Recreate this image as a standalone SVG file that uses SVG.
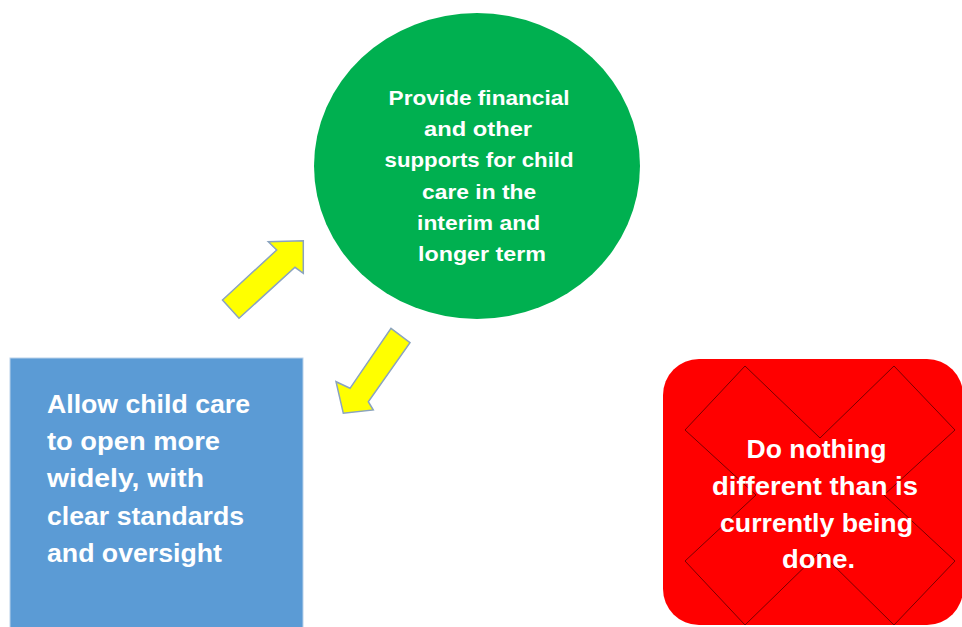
<svg xmlns="http://www.w3.org/2000/svg" width="962" height="627" viewBox="0 0 962 627">
  <style>
    .label { font-family: "Liberation Sans", Arial, sans-serif; font-weight: bold; fill: #ffffff; }
    .mid { text-anchor: middle; }
    .arrow { fill: #ffff00; stroke: #8aa3c0; stroke-width: 1.5; stroke-linejoin: miter; }
    .cross { fill: none; stroke: #7a0000; stroke-width: 1; }
  </style>
  <rect width="962" height="627" fill="#ffffff"/>

  <!-- Green option: financial supports -->
  <g id="node-supports">
    <ellipse cx="477" cy="166" rx="163" ry="153" fill="#00b050"/>
    <text class="label mid" font-size="21">
      <tspan x="482" y="105" textLength="181" lengthAdjust="spacingAndGlyphs">Provide financial</tspan>
      <tspan x="481" y="136" textLength="108" lengthAdjust="spacingAndGlyphs">and other</tspan>
      <tspan x="482" y="167" textLength="189" lengthAdjust="spacingAndGlyphs">supports for child</tspan>
      <tspan x="482" y="198.5" textLength="114" lengthAdjust="spacingAndGlyphs">care in the</tspan>
      <tspan x="481.5" y="229.5" textLength="123" lengthAdjust="spacingAndGlyphs">interim and</tspan>
      <tspan x="482" y="260.5" textLength="128" lengthAdjust="spacingAndGlyphs">longer term</tspan>
    </text>
  </g>

  <!-- Blue option: open child care more widely -->
  <g id="node-open">
    <rect x="10" y="358" width="293" height="275" fill="#5b9bd5" stroke="#b9d1ea" stroke-width="1"/>
    <text class="label" font-size="25.5">
      <tspan x="47" y="413" textLength="203" lengthAdjust="spacingAndGlyphs">Allow child care</tspan>
      <tspan x="47" y="450" textLength="173" lengthAdjust="spacingAndGlyphs">to open more</tspan>
      <tspan x="47" y="487" textLength="157" lengthAdjust="spacingAndGlyphs">widely, with</tspan>
      <tspan x="47" y="524.5" textLength="197" lengthAdjust="spacingAndGlyphs">clear standards</tspan>
      <tspan x="47" y="561.5" textLength="175" lengthAdjust="spacingAndGlyphs">and oversight</tspan>
    </text>
  </g>

  <!-- Red option: do nothing (crossed out) -->
  <g id="node-nothing">
    <rect x="663" y="359" width="300" height="266" rx="36" ry="36" fill="#ff0000"/>
    <polygon class="cross" points="685,430 745,366 820,438 894,366 955,430 884,495 955,561 894,625 820,552 745,625 685,561 756,495"/>
    <text class="label mid" font-size="25">
      <tspan x="820" y="458" textLength="140" lengthAdjust="spacingAndGlyphs">Do nothing</tspan>
      <tspan x="818.5" y="495" textLength="206" lengthAdjust="spacingAndGlyphs">different than is</tspan>
      <tspan x="820" y="531.5" textLength="193" lengthAdjust="spacingAndGlyphs">currently being</tspan>
      <tspan x="818.5" y="568" textLength="73" lengthAdjust="spacingAndGlyphs">done.</tspan>
    </text>
  </g>

  <!-- Block arrows between the options -->
  <g id="connectors">
    <polygon class="arrow" points="222.5,300 276.7,250 268.3,241.7 303.3,240.7 303.3,273.3 295,267.3 239,318.3"/>
    <polygon class="arrow" points="391,328.3 410,342.7 368.3,401.7 373.3,410 343.3,413.3 336,381.7 350,388.3"/>
  </g>
</svg>
